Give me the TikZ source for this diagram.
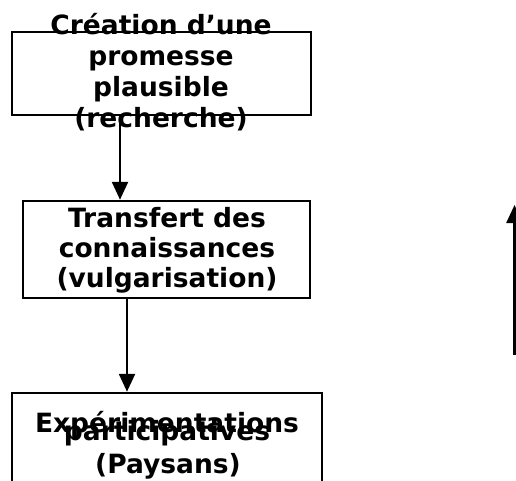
\documentclass[tikz,border=0pt]{standalone}
\usepackage{fontspec}
\setmainfont{DejaVu Sans}
\usetikzlibrary{arrows.meta}
\begin{document}
\begin{tikzpicture}[x=1pt,y=-1pt,
  box/.style={draw=black,line width=2.5pt,inner sep=0pt},
  txt/.style={font=\bfseries\fontsize{26.5}{31}\selectfont,align=center,inner sep=0pt,anchor=base},
  arr/.style={line width=2.5pt,-{Triangle[length=18pt,width=16pt]}}]
\useasboundingbox (0,0) rectangle (516,481);
\node[box,minimum width=299pt,minimum height=83pt] (b1) at (161.5,73.5) {};
\node[box,minimum width=287pt,minimum height=97pt] (b2) at (166.5,249.5) {};
\node[box,minimum width=310pt,minimum height=100pt] (b3) at (167,443) {};
\node[txt] (t1a) at (161,35) {Création d’une};
\node[txt] (t1b) at (161,66) {promesse};
\node[txt] (t1c) at (161,97) {plausible};
\node[txt] (t1d) at (161,128) {(recherche)};
\node[txt] (t2a) at (167,227) {Transfert des};
\node[txt] (t2b) at (167,257) {connaissances};
\node[txt] (t2c) at (167,287) {(vulgarisation)};
\node[txt] (t3a) at (167,432) {Expérimentations};
\node[txt] (t3b) at (167,440) {participatives};
\node[txt] (t3c) at (168,473) {(Paysans)};
\coordinate (x1) at (120,0);
\coordinate (x2) at (127,0);
\draw[arr] (b1.south -| x1) -- (b2.north -| x1);
\draw[arr] (b2.south -| x2) -- (b3.north -| x2);
\coordinate (r1) at (514.5,355);
\coordinate (r2) at (514.5,205);
\draw[arr] (r1) -- (r2);
\end{tikzpicture}
\end{document}
